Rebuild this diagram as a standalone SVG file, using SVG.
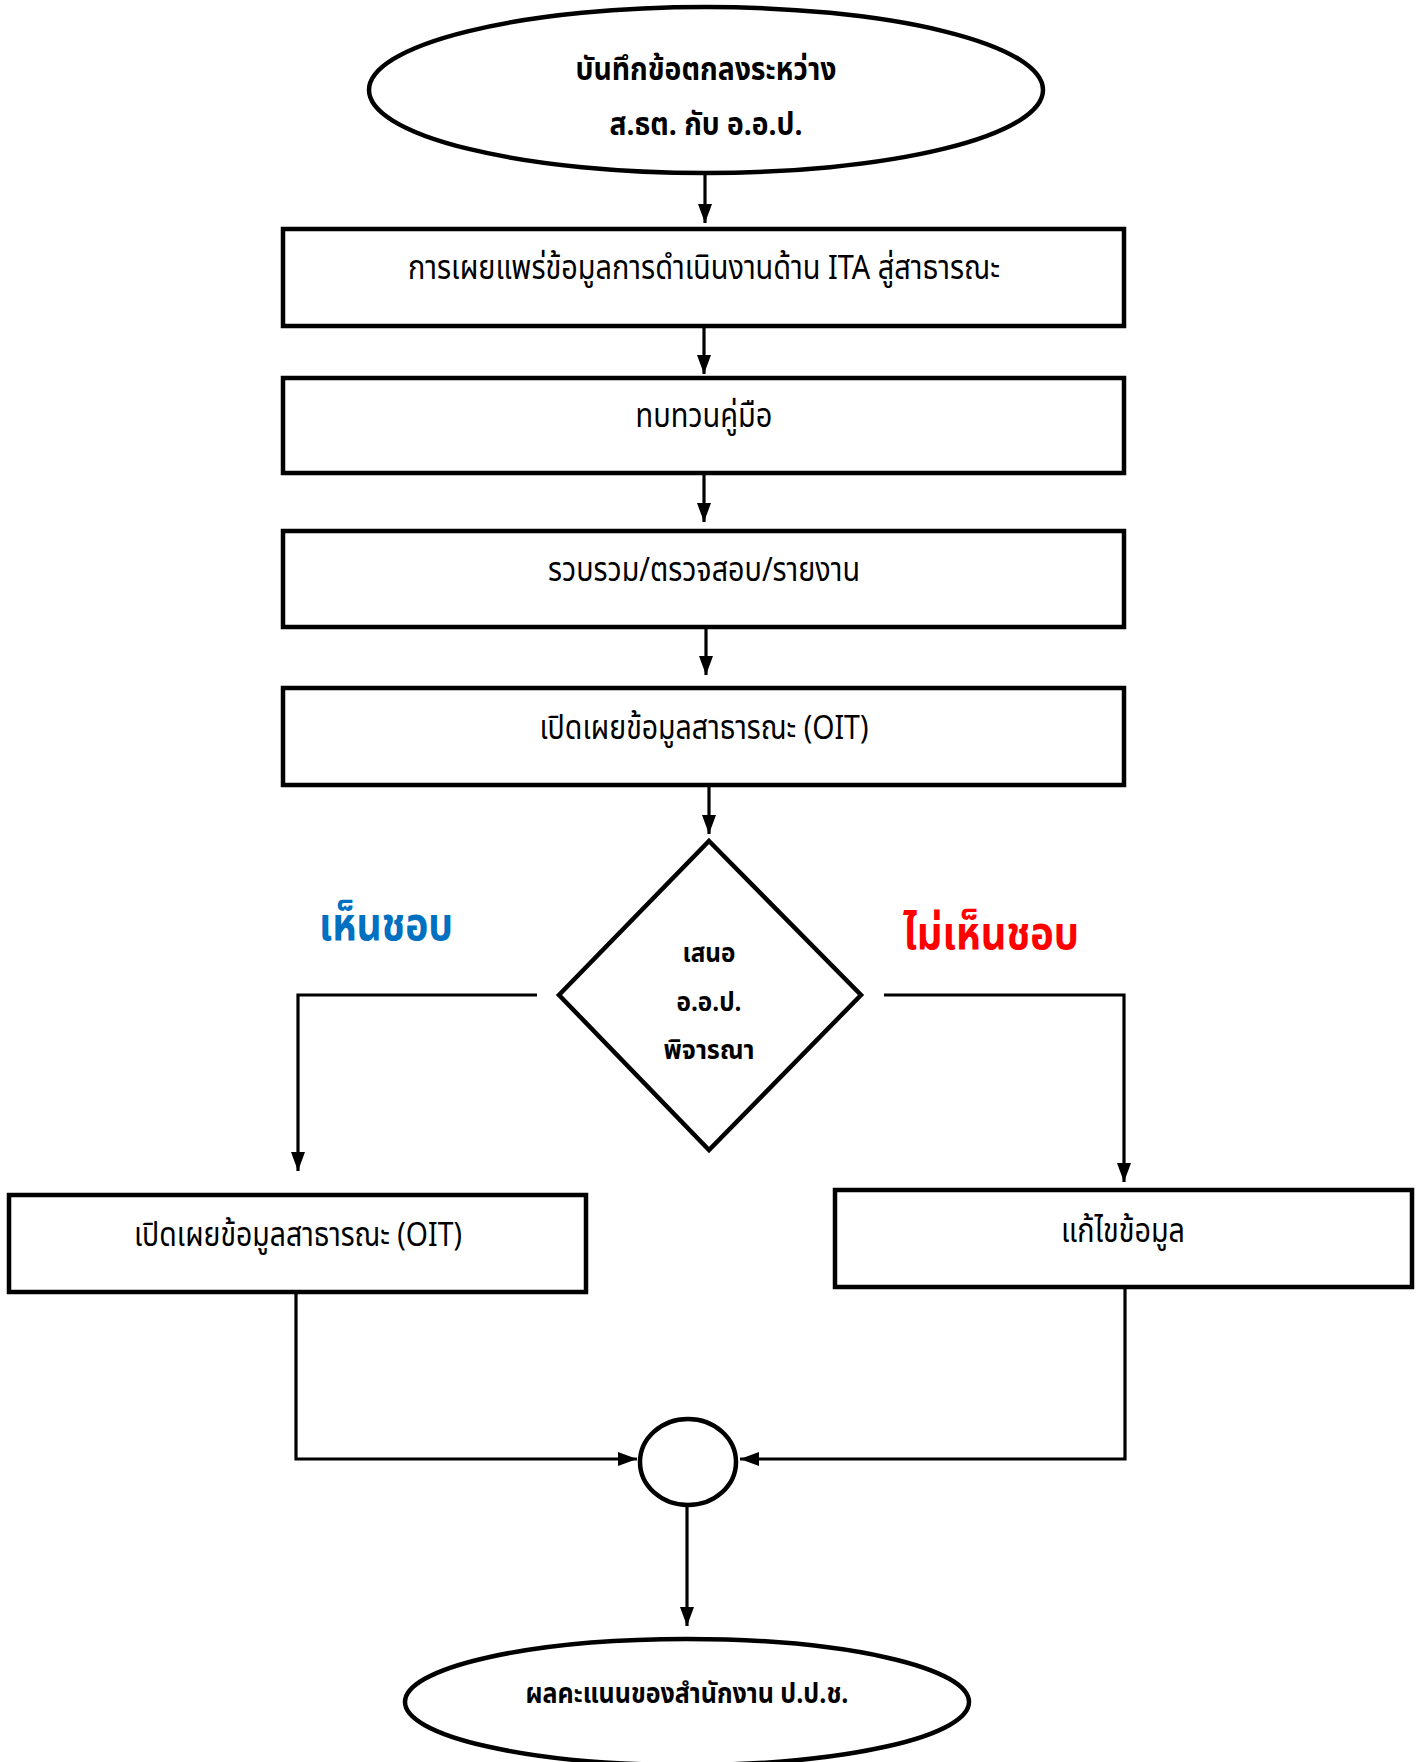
<svg xmlns="http://www.w3.org/2000/svg" width="1422" height="1762" viewBox="0 0 1422 1762">
<defs>
<style>
.shape{fill:#fff;stroke:#000;stroke-width:4.5}
.conn{fill:none;stroke:#000;stroke-width:3.2}
.t{font-family:"Noto Sans Thai","Noto Sans","DejaVu Sans",sans-serif;font-size:33px;fill:#000;text-anchor:middle}
.b{font-weight:bold}
</style>
<marker id="ah" viewBox="0 0 10 10" refX="10" refY="5" markerWidth="19" markerHeight="14" markerUnits="userSpaceOnUse" orient="auto" preserveAspectRatio="none">
<path d="M0,0 L10,5 L0,10 z" fill="#000"/>
</marker>
</defs>
<rect width="1422" height="1762" fill="#fff"/>
<g id="connectors">
<line class="conn" x1="705" y1="174" x2="705" y2="223" marker-end="url(#ah)"/>
<line class="conn" x1="704" y1="326" x2="704" y2="374" marker-end="url(#ah)"/>
<line class="conn" x1="704" y1="473" x2="704" y2="522" marker-end="url(#ah)"/>
<line class="conn" x1="706" y1="627" x2="706" y2="675" marker-end="url(#ah)"/>
<line class="conn" x1="709" y1="785" x2="709" y2="834" marker-end="url(#ah)"/>
<polyline class="conn" points="537,995 298,995 298,1171" marker-end="url(#ah)"/>
<polyline class="conn" points="884,995 1124,995 1124,1182" marker-end="url(#ah)"/>
<polyline class="conn" points="296,1292 296,1459 637,1459" marker-end="url(#ah)"/>
<polyline class="conn" points="1125,1287 1125,1459 740,1459" marker-end="url(#ah)"/>
<line class="conn" x1="687" y1="1506" x2="687" y2="1626" marker-end="url(#ah)"/>
</g>
<g id="start">
<ellipse class="shape" cx="706" cy="90" rx="337" ry="83"/>
<text class="t b" x="706" y="80" style="font-size:31px" textLength="261" lengthAdjust="spacingAndGlyphs">บันทึกข้อตกลงระหว่าง</text>
<text class="t b" x="706" y="135" style="font-size:31px" textLength="193" lengthAdjust="spacingAndGlyphs">ส.ธต. กับ อ.อ.ป.</text>
</g>
<g id="step1">
<rect class="shape" x="283" y="229" width="841" height="97"/>
<text class="t" x="704" y="279" textLength="592" lengthAdjust="spacingAndGlyphs">การเผยแพร่ข้อมูลการดำเนินงานด้าน ITA สู่สาธารณะ</text>
</g>
<g id="step2">
<rect class="shape" x="283" y="378" width="841" height="95"/>
<text class="t" x="704" y="427" textLength="137" lengthAdjust="spacingAndGlyphs">ทบทวนคู่มือ</text>
</g>
<g id="step3">
<rect class="shape" x="283" y="531" width="841" height="96"/>
<text class="t" x="704" y="581" textLength="312" lengthAdjust="spacingAndGlyphs">รวบรวม/ตรวจสอบ/รายงาน</text>
</g>
<g id="step4">
<rect class="shape" x="283" y="688" width="841" height="97"/>
<text class="t" x="704" y="739" textLength="329" lengthAdjust="spacingAndGlyphs">เปิดเผยข้อมูลสาธารณะ (OIT)</text>
</g>
<g id="decision">
<polygon class="shape" points="709,841 861,995 709,1150 559,995"/>
<text class="t b" x="709" y="962" style="font-size:26px" textLength="53" lengthAdjust="spacingAndGlyphs">เสนอ</text>
<text class="t b" x="709" y="1011" style="font-size:26px" textLength="65" lengthAdjust="spacingAndGlyphs">อ.อ.ป.</text>
<text class="t b" x="709" y="1059" style="font-size:26px" textLength="91" lengthAdjust="spacingAndGlyphs">พิจารณา</text>
</g>
<g id="label-yes">
<text class="t b" x="386" y="940" style="font-size:46px;fill:#0070C0" textLength="134" lengthAdjust="spacingAndGlyphs">เห็นชอบ</text>
</g>
<g id="label-no">
<text class="t b" x="991" y="949" style="font-size:46px;fill:#FF0000" textLength="176" lengthAdjust="spacingAndGlyphs">ไม่เห็นชอบ</text>
</g>
<g id="publish">
<rect class="shape" x="9" y="1195" width="577" height="97"/>
<text class="t" x="298" y="1246" textLength="328" lengthAdjust="spacingAndGlyphs">เปิดเผยข้อมูลสาธารณะ (OIT)</text>
</g>
<g id="fix">
<rect class="shape" x="835" y="1190" width="577" height="97"/>
<text class="t" x="1123" y="1242" textLength="124" lengthAdjust="spacingAndGlyphs">แก้ไขข้อมูล</text>
</g>
<g id="merge">
<ellipse class="shape" cx="688" cy="1462" rx="48" ry="43"/>
</g>
<g id="end">
<ellipse class="shape" cx="687" cy="1702" rx="282" ry="63"/>
<text class="t b" x="687" y="1703" style="font-size:28px" textLength="323" lengthAdjust="spacingAndGlyphs">ผลคะแนนของสำนักงาน ป.ป.ช.</text>
</g>
</svg>
